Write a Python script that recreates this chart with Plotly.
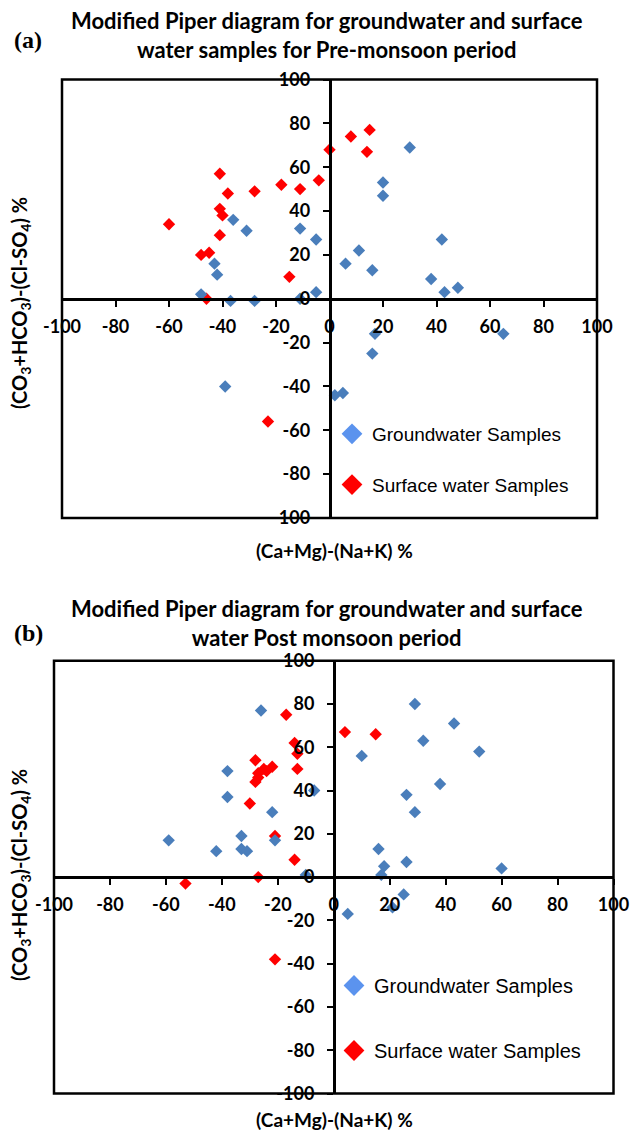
import plotly.graph_objects as go

W, H = 630, 1132

# ---------------- data ----------------
# (a) Pre-monsoon
pre_gw_x = [-36, -31, -43, -42, -48, -37, -28, -11, -5, -11, -5, 30, 20, 20, 42, 11, 6, 16, 38, 43, 48, 17, 16, 65, 2, 5, -39]
pre_gw_y = [36, 31, 16, 11, 2, -1, -1, 0, 3, 32, 27, 69, 53, 47, 27, 22, 16, 13, 9, 3, 5, -16, -25, -16, -44, -43, -40]
pre_sw_x = [-60, -41, -38, -41, -40, -41, -48, -45, -46, -28, -18, -11, -4, -15, 0, 8, 15, 14, -23]
pre_sw_y = [34, 57, 48, 41, 38, 29, 20, 21, 0, 49, 52, 50, 54, 10, 68, 74, 77, 67, -56]

# (b) Post-monsoon
post_gw_x = [-26, -38, -38, -59, -42, -33, -33, -31, -22, -21, -7, -10, 29, 43, 32, 52, 10, 38, 26, 29, 16, 26, 18, 17, 60, 5, 25, 21]
post_gw_y = [77, 49, 37, 17, 12, 19, 13, 12, 30, 17, 40, 1, 80, 71, 63, 58, 56, 43, 38, 30, 13, 7, 5, 1, 4, -17, -8, -14]
post_sw_x = [-17, -14, -13, -13, -28, -27, -25, -24, -22, -28, -27, -30, -21, -14, -27, -53, -21, 4, 15]
post_sw_y = [75, 62, 57, 50, 54, 48, 50, 49, 51, 44, 46, 34, 19, 8, 0, -3, -38, 67, 66]

tick_vals = [-100, -80, -60, -40, -20, 0, 20, 40, 60, 80, 100]
tick_text = [str(v) for v in tick_vals]

titles = [
    "Modified Piper diagram for groundwater and surface<br>water samples for Pre-monsoon period",
    "Modified Piper diagram for groundwater and surface<br>water Post monsoon period",
]
panel_labels = ["(a)", "(b)"]
x_title = "(Ca+Mg)-(Na+K) %"
y_title = "(CO<sub>3</sub>+HCO<sub>3</sub>)-(Cl-SO<sub>4</sub>) %"
gw_name = "Groundwater Samples"
sw_name = "Surface water Samples"

# ---------------- styling ----------------
BLUE = "#4a7ebb"
BLUE_LEG = "#5b93ee"
RED = "#ff0000"
TICKFONT = dict(family="Lato", size=18, color="black", weight="bold")
AX_LW = 2.5
MSIZE = 9.5


def px(p):
    return p / W


def py(p):
    return 1 - p / H


# panel geometry in pixels: left, right, top, bottom
panels = [
    dict(l=62, r=597, t=79.5, b=518),
    dict(l=54, r=613.5, t=660.7, b=1093.5),
]

fig = go.Figure()

data_sets = [
    (pre_gw_x, pre_gw_y, pre_sw_x, pre_sw_y),
    (post_gw_x, post_gw_y, post_sw_x, post_sw_y),
]

for i, (gx, gy, sx, sy) in enumerate(data_sets):
    xa = "x" if i == 0 else "x2"
    ya = "y" if i == 0 else "y2"
    lg = "legend" if i == 0 else "legend2"
    # data (surface water below, groundwater on top)
    fig.add_trace(go.Scatter(
        x=sx, y=sy, mode="markers", name=sw_name, showlegend=False,
        marker=dict(symbol="diamond", size=MSIZE, color=RED, line=dict(width=0)),
        xaxis=xa, yaxis=ya, legendgroup=f"sw{i}",
    ))
    fig.add_trace(go.Scatter(
        x=gx, y=gy, mode="markers", name=gw_name, showlegend=False,
        marker=dict(symbol="diamond", size=MSIZE, color=BLUE, line=dict(width=0)),
        xaxis=xa, yaxis=ya, legendgroup=f"gw{i}",
    ))
    # legend entries (larger symbols, as in the reference legend)
    fig.add_trace(go.Scatter(
        x=[None], y=[None], mode="markers", name=gw_name,
        marker=dict(symbol="diamond", size=16, color=BLUE_LEG, line=dict(width=0)),
        xaxis=xa, yaxis=ya, legend=lg, legendgroup=f"gw{i}", legendrank=1,
    ))
    fig.add_trace(go.Scatter(
        x=[None], y=[None], mode="markers", name=sw_name,
        marker=dict(symbol="diamond", size=16, color=RED, line=dict(width=0)),
        xaxis=xa, yaxis=ya, legend=lg, legendgroup=f"sw{i}", legendrank=2,
    ))

layout = dict(
    width=W, height=H,
    margin=dict(l=0, r=0, t=0, b=0, autoexpand=False),
    paper_bgcolor="white", plot_bgcolor="white",
    showlegend=True,
)

shapes = []
annotations = []
for i, p in enumerate(panels):
    xd = [px(p["l"]), px(p["r"])]
    yd = [py(p["b"]), py(p["t"])]
    xkey = "xaxis" if i == 0 else "xaxis2"
    ykey = "yaxis" if i == 0 else "yaxis2"
    yname = "y" if i == 0 else "y2"
    xname = "x" if i == 0 else "x2"
    common = dict(
        range=[-100, 100], showgrid=False, zeroline=False,
        showline=True, linecolor="black", linewidth=AX_LW,
        ticks="outside", ticklen=6, tickwidth=2, tickcolor="black",
        tickvals=tick_vals, ticktext=tick_text, tickfont=TICKFONT,
        anchor="free", fixedrange=True, automargin=False,
    )
    layout[xkey] = dict(common, domain=xd, position=(yd[0] + yd[1]) / 2,
                        ticklabelstandoff=5)
    layout[ykey] = dict(common, domain=yd, position=(xd[0] + xd[1]) / 2,
                        ticklabelstandoff=9)
    # frame
    shapes.append(dict(type="rect", xref=f"{xname} domain", yref=f"{yname} domain",
                       x0=0, x1=1, y0=0, y1=1,
                       line=dict(color="black", width=AX_LW), layer="above"))

# titles & labels
title_y = [35, 622.5]
label_y = [40, 633]
xt_y = [550, 1119]
yt_y = [303, 875]
for i in range(2):
    annotations.append(dict(text=titles[i], x=px(327), y=py(title_y[i]), xref="paper", yref="paper",
                            showarrow=False, xanchor="center", yanchor="middle",
                            font=dict(family="Lato", size=22, color="black", weight="bold")))
    annotations.append(dict(text=panel_labels[i], x=px(28), y=py(label_y[i]), xref="paper", yref="paper",
                            showarrow=False, xanchor="center", yanchor="middle",
                            font=dict(family="Liberation Serif", size=24, color="black", weight="bold")))
    annotations.append(dict(text=x_title, x=px(334), y=py(xt_y[i]), xref="paper", yref="paper",
                            showarrow=False, xanchor="center", yanchor="middle",
                            font=dict(family="Lato", size=19, color="black", weight="bold")))
    annotations.append(dict(text=y_title, x=px(20), y=py(yt_y[i]), xref="paper", yref="paper",
                            showarrow=False, xanchor="center", yanchor="middle", textangle=-90,
                            font=dict(family="Lato", size=20, color="black", weight="bold")))

layout["legend"] = dict(x=px(332), y=py(415), xanchor="left", yanchor="top",
                        bgcolor="rgba(0,0,0,0)",
                        font=dict(family="Liberation Sans", size=19, color="black"),
                        itemsizing="trace", tracegroupgap=23,
                        itemclick=False, itemdoubleclick=False)
layout["legend2"] = dict(x=px(334), y=py(966), xanchor="left", yanchor="top",
                         bgcolor="rgba(0,0,0,0)",
                         font=dict(family="Liberation Sans", size=20, color="black"),
                         itemsizing="trace", tracegroupgap=36,
                         itemclick=False, itemdoubleclick=False)
layout["shapes"] = shapes
layout["annotations"] = annotations

fig.update_layout(**layout)
fig.write_html("out.html")
